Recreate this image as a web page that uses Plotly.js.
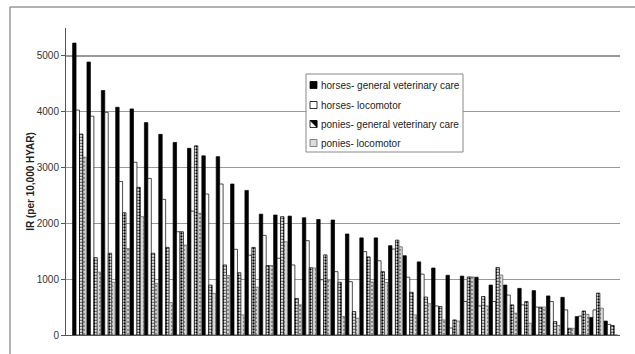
<!DOCTYPE html>
<html>
<head>
<meta charset="utf-8">
<script src="https://cdn.plot.ly/plotly-3.0.1.min.js"></script>
<style>
html,body{margin:0;padding:0;background:#fff;}
#chart{width:635px;height:354px;}
</style>
</head>
<body>
<div id="chart"></div>
<script>
// 38 groups (unlabelled categories)
const categories = [1,2,3,4,5,6,7,8,9,10,11,12,13,14,15,16,17,18,19,20,21,22,23,24,25,26,27,28,29,30,31,32,33,34,35,36,37,38];
const horsesGeneral = [5230,4890,4380,4080,4050,3805,3595,3450,3345,3210,3195,2705,2590,2165,2150,2130,2100,2070,2060,1810,1740,1740,1600,1420,1310,1200,1070,1055,1035,895,895,835,795,700,675,330,315,250];
const horsesLoco    = [4030,3920,3990,2750,3095,2805,2430,1850,2220,2525,2705,1535,1430,1785,1375,1255,1690,990,1135,955,1495,1330,1540,1035,1090,520,125,600,520,600,715,540,500,600,450,340,450,190];
const poniesGeneral = [3600,1385,1465,2190,2645,1465,1570,1850,3390,895,1255,1115,1570,1245,2120,655,1205,1435,945,420,1400,1135,1700,765,680,510,270,1040,690,1210,540,600,500,240,120,430,750,170];
const poniesLoco    = [3185,1125,945,1550,2120,925,580,1610,2180,745,1065,360,855,1245,1670,540,1200,975,330,300,950,940,1580,360,560,270,250,1040,520,1075,390,210,500,170,120,370,480,0];
const seriesNames = ["horses- general veterinary care","horses- locomotor","ponies- general veterinary care","ponies- locomotor"];
const yTicks = [0,1000,2000,3000,4000,5000];

// geometry helpers (pixel -> paper), plot area: x 66..620, y 28..335
const L=66, R=15, T=28, B=19, W=635, H=354;
const pw=W-L-R, ph=H-T-B;
const px=v=>(v-L)/pw, py=v=>(H-B-v)/ph;

const x = categories.map((c,i)=>i);
const line = {color:'#000', width:0.7};
const traces = [
  {type:'bar', name:seriesNames[0], x:x, y:horsesGeneral, marker:{color:'#000', line:line}},
  {type:'bar', name:seriesNames[1], x:x, y:horsesLoco, marker:{color:'#fff', line:line}},
  {type:'bar', name:seriesNames[2], x:x, y:poniesGeneral, marker:{color:'#fff', line:line,
     pattern:{shape:'.', fgcolor:'#000', bgcolor:'#fff', size:3, solidity:0.45}}},
  {type:'bar', name:seriesNames[3], x:x, y:poniesLoco, marker:{color:'#d4d4d4', line:{color:'#555',width:0.7},
     pattern:{shape:'.', fgcolor:'#888', bgcolor:'#d8d8d8', size:4, solidity:0.25}}}
];

// custom legend (box, swatches, labels)
const rowsY=[85,105,124,143];
const shapes=[
  {type:'rect', xref:'paper', yref:'paper', x0:px(10), x1:1.2, y0:-0.2, y1:py(7),
    line:{color:'#666', width:1}, fillcolor:'rgba(0,0,0,0)'},
  {type:'rect', xref:'paper', yref:'paper', x0:px(306), x1:px(463), y0:py(152), y1:py(74),
    line:{color:'#888', width:1}, fillcolor:'#fff'}
];
const swFill=['#000','#fff','#fff','#dcdcdc'];
rowsY.forEach((cy,i)=>{
  shapes.push({type:'rect', xref:'paper', yref:'paper', x0:px(310), x1:px(317), y0:py(cy+3.5), y1:py(cy-3.5),
    line:{color:i===3?'#666':'#000', width:0.8}, fillcolor:swFill[i]});
});
// black triangle in ponies-general swatch
shapes.push({type:'path', xref:'paper', yref:'paper',
  path:`M ${px(310)} ${py(rowsY[2]-3.5)} L ${px(317)} ${py(rowsY[2]-3.5)} L ${px(317)} ${py(rowsY[2]+3.5)} Z`,
  line:{color:'#000', width:0.5}, fillcolor:'#000'});
const annotations = seriesNames.map((n,i)=>({xref:'paper', yref:'paper', x:px(319), y:py(rowsY[i]),
  xanchor:'left', yanchor:'middle', showarrow:false, text:n, font:{size:10, color:'#222'}}));

const layout = {
  width:W, height:H,
  margin:{l:L, r:R, t:T, b:B},
  paper_bgcolor:'#fff', plot_bgcolor:'#fff',
  font:{family:'Liberation Sans, Arial, sans-serif', size:10, color:'#333'},
  barmode:'group', bargap:0.04, bargroupgap:0,
  showlegend:false,
  xaxis:{range:[-0.94,37.64], showticklabels:false, ticks:'', showgrid:false,
    showline:true, linecolor:'#555', linewidth:1, zeroline:false, fixedrange:true},
  yaxis:{range:[0,5500], tickvals:yTicks, ticktext:yTicks.map(String), ticks:'outside', ticklen:4,
    tickcolor:'#555', showgrid:true, gridcolor:'#999', gridwidth:1.2,
    showline:true, linecolor:'#555', linewidth:1, zeroline:false,
    tickfont:{size:10, color:'#333'},
    title:{text:'IR (per 10,000 HYAR)', font:{size:10, color:'#222', weight:'bold'}, standoff:0}},
  shapes:shapes,
  annotations:annotations
};
Plotly.newPlot('chart', traces, layout, {staticPlot:true, displayModeBar:false});
</script>
</body>
</html>
